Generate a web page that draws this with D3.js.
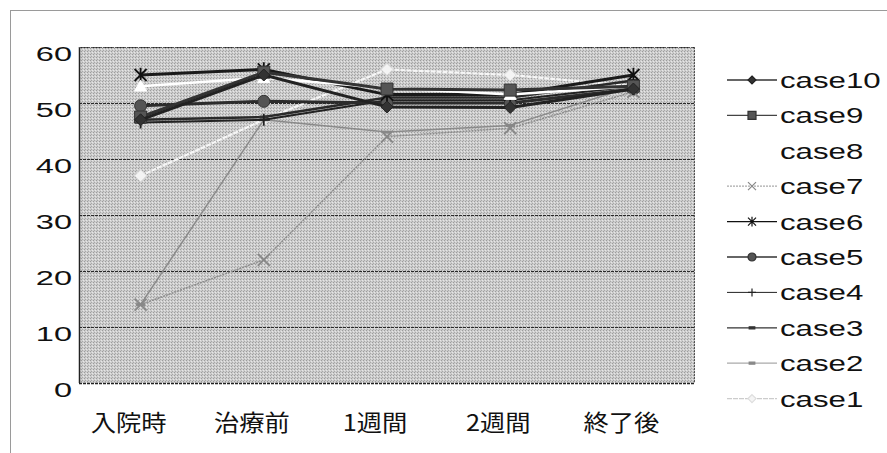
<!DOCTYPE html>
<html><head><meta charset="utf-8">
<script src="https://cdn.jsdelivr.net/npm/d3@7"></script>
<style>body{margin:0;background:#fff}svg{display:block}</style>
</head><body>
<script>
const categories = ['入院時','治療前','1週間','2週間','終了後'];
const yTicks = [0,10,20,30,40,50,60];
const case1  = [37, 47, 56, 55, 53];
const case2  = [14, 47, 44.8, 46, 53];
const case3  = [47, 47.5, 51, 51, 54];
const case4  = [46.5, 47, 50.5, 50.5, 53];
const case5  = [49.5, 50.3, 50, 50, 52.5];
const case6  = [55, 56, 51.5, 51.5, 55];
const case7  = [14, 22, 44, 45.5, 52];
const case8  = [53, 54.5, 52.7, 51.5, 53];
const case9  = [47.5, 55.5, 52.5, 52.3, 53];
const case10 = [47, 55, 49.3, 49.2, 52.5];
const seriesNames = ['case1','case2','case3','case4','case5','case6','case7','case8','case9','case10'];
const seriesValues = [case1,case2,case3,case4,case5,case6,case7,case8,case9,case10];

const styles = {
  case1:{stroke:'#f6f6f6',w:2.2,dash:'5,1',marker:'diamond',mfill:'#f4f4f4',mstroke:'#ddd',lstroke:'#ccc'},
  case2:{stroke:'#8a8a8a',w:1.5,dash:null,marker:'dash',mfill:'#888',mstroke:'#888',lstroke:'#aaa'},
  case3:{stroke:'#2a2a2a',w:2.5,dash:null,marker:'dash',mfill:'#333',mstroke:'#333',lstroke:'#333'},
  case4:{stroke:'#222',w:2,dash:null,marker:'plus',mfill:'none',mstroke:'#222',lstroke:'#222'},
  case5:{stroke:'#2c2c2c',w:3,dash:null,marker:'circle',mfill:'#555',mstroke:'#333',lstroke:'#333'},
  case6:{stroke:'#1a1a1a',w:3,dash:null,marker:'asterisk',mfill:'none',mstroke:'#111',lstroke:'#111'},
  case7:{stroke:'#8c8c8c',w:1.5,dash:'2,1',marker:'x',mfill:'none',mstroke:'#888',lstroke:'#aaa'},
  case8:{stroke:'#ffffff',w:2.5,dash:null,marker:'triangle',mfill:'#fff',mstroke:'#fff',lstroke:'#fff'},
  case9:{stroke:'#333',w:3,dash:null,marker:'square',mfill:'#555',mstroke:'#333',lstroke:'#444'},
  case10:{stroke:'#222',w:3,dash:null,marker:'diamond',mfill:'#333',mstroke:'#222',lstroke:'#333'}
};

const W = 887, H = 453;
const svg = d3.select('body').append('svg').attr('width',W).attr('height',H);

svg.append('rect').attr('x',10.5).attr('y',10.5).attr('width',W+10).attr('height',H+10)
  .attr('fill','none').attr('stroke','#9a9a9a').attr('stroke-width',1);

const plot = {l:79, r:695, t:47, b:383};
const x = d3.scaleBand().domain(categories).range([plot.l, plot.r]);
const y = d3.scaleLinear().domain([0,60]).range([plot.b, plot.t]);

const defs = svg.append('defs');
const pat = defs.append('pattern').attr('id','stip').attr('width',3).attr('height',3).attr('patternUnits','userSpaceOnUse');
pat.append('rect').attr('width',3).attr('height',3).attr('fill','#cdcdcd');
pat.append('rect').attr('x',0).attr('y',0).attr('width',1).attr('height',1).attr('fill','#9c9c9c');
pat.append('rect').attr('x',2).attr('y',1).attr('width',1).attr('height',1).attr('fill','#e6e6e6');
pat.append('rect').attr('x',1).attr('y',2).attr('width',1).attr('height',1).attr('fill','#a8a8a8');

svg.append('rect').attr('x',plot.l).attr('y',plot.t).attr('width',plot.r-plot.l).attr('height',plot.b-plot.t)
  .attr('fill','url(#stip)');

svg.append('g').selectAll('line').data(yTicks.filter(d=>d>0)).join('line')
  .attr('x1',plot.l).attr('x2',plot.r).attr('y1',d=>y(d)+0.5).attr('y2',d=>y(d)+0.5)
  .attr('stroke','#2a2a2a').attr('stroke-width',1).attr('stroke-dasharray','3,1');

svg.append('line').attr('x1',plot.l+0.5).attr('x2',plot.l+0.5).attr('y1',plot.t).attr('y2',plot.b)
  .attr('stroke','#222').attr('stroke-width',1.5);
svg.append('line').attr('x1',plot.l).attr('x2',plot.r).attr('y1',plot.b+0.5).attr('y2',plot.b+0.5)
  .attr('stroke','#222').attr('stroke-width',1.5).attr('stroke-dasharray','3,1');
svg.append('line').attr('x1',plot.r-0.5).attr('x2',plot.r-0.5).attr('y1',plot.t).attr('y2',plot.b)
  .attr('stroke','#555').attr('stroke-width',1).attr('stroke-dasharray','2,1');
svg.append('line').attr('x1',plot.l).attr('x2',plot.r).attr('y1',plot.t+0.5).attr('y2',plot.t+0.5)
  .attr('stroke','#555').attr('stroke-width',1).attr('stroke-dasharray','2,1');

const sy = 1.55;
const yAxis = svg.append('g').attr('transform',`translate(${plot.l},0)`)
  .call(d3.axisLeft(y).tickValues(yTicks).tickSize(0).tickPadding(0));
yAxis.select('.domain').remove();
yAxis.selectAll('text')
  .attr('font-family','Liberation Sans, Arial, sans-serif').attr('font-size',21).attr('fill','#111')
  .attr('x',-7/sy).attr('dy','0.36em').attr('y',6)
  .attr('transform',`scale(${sy},1)`);

const xAxis = svg.append('g').attr('transform',`translate(0,${plot.b})`)
  .call(d3.axisBottom(x).tickSize(0).tickPadding(0));
xAxis.select('.domain').remove();
xAxis.selectAll('.tick text')
  .attr('font-family','Noto Sans CJK JP, sans-serif').attr('font-size',23).attr('fill','#111')
  .attr('x',0).attr('y',48).attr('dy',0)
  .attr('transform','translate(-12,0) scale(1.1,1)');

function markerPath(type, s){
  switch(type){
    case 'diamond': return `M0,${-s}L${s},0L0,${s}L${-s},0Z`;
    case 'square': return `M${-s},${-s}H${s}V${s}H${-s}Z`;
    case 'triangle': return `M0,${-s}L${s},${s*0.8}H${-s}Z`;
    case 'circle': return `M${s},0A${s},${s} 0 1,1 ${-s},0A${s},${s} 0 1,1 ${s},0Z`;
    case 'x': return `M${-s},${-s}L${s},${s}M${-s},${s}L${s},${-s}`;
    case 'plus': return `M0,${-s}V${s}M${-s},0H${s}`;
    case 'asterisk': return `M${-s},${-s}L${s},${s}M${-s},${s}L${s},${-s}M0,${-s*1.2}V${s*1.2}`;
    case 'dash': return `M${-s*0.7},-1H${s*0.7}V1H${-s*0.7}Z`;
  }
}
const lineGen = d3.line().x((d,i)=>x(categories[i])+x.bandwidth()/2).y(d=>y(d));

seriesNames.forEach((name,k)=>{
  const st = styles[name], vals = seriesValues[k];
  const g = svg.append('g');
  g.append('path').datum(vals).attr('d',lineGen).attr('fill','none')
    .attr('stroke',st.stroke).attr('stroke-width',st.w)
    .attr('stroke-dasharray',st.dash).attr('stroke-linejoin','round');
  g.selectAll('path.m').data(vals).join('path').attr('class','m')
    .attr('transform',(d,i)=>`translate(${x(categories[i])+x.bandwidth()/2},${y(d)})`)
    .attr('d',markerPath(st.marker,6))
    .attr('fill',['x','plus','asterisk'].includes(st.marker)?'none':st.mfill)
    .attr('stroke',st.mstroke).attr('stroke-width',['x','plus','asterisk'].includes(st.marker)?1.8:1);
});

const legendOrder = seriesNames.slice().reverse();
const lg = svg.append('g');
legendOrder.forEach((name,i)=>{
  const st = styles[name];
  const cy = 80 + i*35.4;
  const row = lg.append('g').attr('transform',`translate(0,${cy})`);
  row.append('line').attr('x1',727).attr('x2',777).attr('y1',0).attr('y2',0)
    .attr('stroke',st.lstroke).attr('stroke-width',name==='case4'?1:1.3)
    .attr('stroke-dasharray',st.dash);
  row.append('path').attr('transform','translate(752,0)')
    .attr('d',markerPath(st.marker,4))
    .attr('fill',['x','plus','asterisk'].includes(st.marker)?'none':st.mfill)
    .attr('stroke',st.mstroke).attr('stroke-width',1.2);
  row.append('text').attr('transform','translate(780,0) scale(1.42,1)')
    .attr('dy','0.36em')
    .attr('font-family','Liberation Sans, Arial, sans-serif').attr('font-size',22).attr('fill','#111')
    .text(name);
});
</script>
</body></html>
